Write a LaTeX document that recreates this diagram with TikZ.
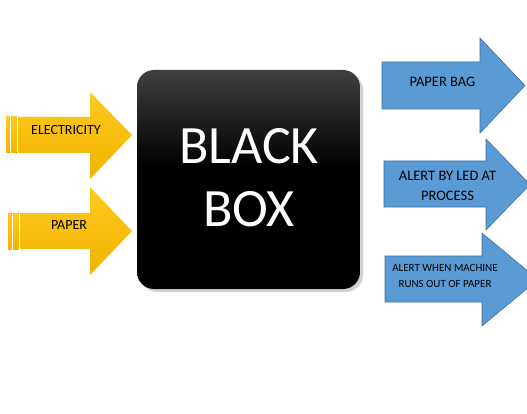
\documentclass[tikz,border=0pt]{standalone}
\usepackage{fontspec}
\setmainfont{Carlito}
\definecolor{gold1}{HTML}{FFC91F}
\definecolor{gold2}{HTML}{F0B400}
\definecolor{bluefill}{HTML}{5B9BD5}
\definecolor{blueline}{HTML}{41719C}
\definecolor{bbgray}{HTML}{404040}
\pgfdeclareverticalshading{bbshade}{100bp}{color(0bp)=(black); color(53bp)=(black); color(75bp)=(bbgray); color(100bp)=(bbgray)}
\tikzset{
  goldarrow/.style={top color=gold1, bottom color=gold2, draw=none},
  bluearrow/.style={fill=bluefill, draw=blueline, line width=0.6pt, line join=miter},
  lbl/.style={inner sep=0pt, align=center, text=black},
}
\begin{document}
\begin{tikzpicture}[x=1pt, y=-1pt]
\useasboundingbox (0,0) rectangle (527,414);
\fill[white] (0,0) rectangle (527,414);
\clip (0,0) rectangle (527,414);

% Black box
\path[fill=black!35, opacity=0.5, rounded corners=17pt] (140,73) rectangle (363,292);
\shade[shading=bbshade, rounded corners=17pt] (137,70) rectangle (360,289);
\node[lbl, text=white, font=\fontsize{54}{63}\selectfont] (bb) at (249,178) {BLACK\\BOX};

% Yellow striped arrows
% Electricity
\fill[goldarrow] (6,117) rectangle (9.5,153);
\fill[goldarrow] (11,117) rectangle (16.5,153);
\path[goldarrow] (18,117) -- (90,117) -- (90,92) -- (132,135) -- (90,179) -- (90,153) -- (18,153) -- cycle;
\node[lbl, font=\fontsize{14}{16}\selectfont] (elec) at (66,130) {ELECTRICITY};

% Paper
\fill[goldarrow] (8,213) rectangle (11.5,249);
\fill[goldarrow] (13,213) rectangle (18.5,249);
\path[goldarrow] (20,213) -- (90,213) -- (90,187) -- (132,231) -- (90,275) -- (90,249) -- (20,249) -- cycle;
\node[lbl, font=\fontsize{14}{16}\selectfont] (paper) at (69,225) {PAPER};

% Blue arrows
\path[bluearrow] (382,62) -- (480,62) -- (480,38) -- (525,85.5) -- (480,133) -- (480,109) -- (382,109) -- cycle;
\node[lbl, font=\fontsize{14.5}{17}\selectfont] (bag) at (442.5,82) {PAPER BAG};

\path[bluearrow] (384,161) -- (486,161) -- (486,139) -- (530,184.5) -- (486,230) -- (486,207) -- (384,207) -- cycle;
\node[lbl, font=\fontsize{14.5}{19.5}\selectfont] (led) at (447.5,186) {ALERT BY LED AT\\PROCESS};

\path[bluearrow] (385,256) -- (482,256) -- (482,233) -- (538,279.5) -- (482,326) -- (482,302) -- (385,302) -- cycle;
\node[lbl, font=\fontsize{11}{15.5}\selectfont] (runout) at (445,276) {ALERT WHEN MACHINE\\RUNS OUT OF PAPER};
\end{tikzpicture}
\end{document}
